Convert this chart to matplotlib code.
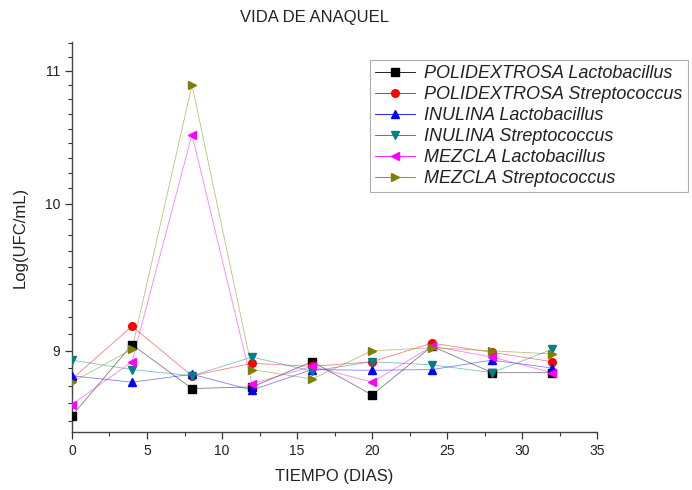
import matplotlib
matplotlib.use("Agg")
import matplotlib.pyplot as plt
import numpy as np
from matplotlib.ticker import FixedLocator, FixedFormatter, NullFormatter

plt.rcParams['font.family'] = ['Liberation Sans', 'DejaVu Sans']

# Shelf-life counts, Log(UFC/mL) per sampling day
dias = [0, 4, 8, 12, 16, 20, 24, 28, 32]
polidextrosa_lacto = [8.59, 9.04, 8.76, 8.77, 8.93, 8.72, 9.03, 8.86, 8.86]
polidextrosa_strep = [8.82, 9.16, 8.84, 8.92, 8.90, 8.93, 9.05, 8.99, 8.93]
inulina_lacto = [8.84, 8.80, 8.85, 8.75, 8.88, 8.875, 8.88, 8.94, 8.89]
inulina_strep = [8.94, 8.88, 8.84, 8.96, 8.87, 8.93, 8.91, 8.86, 9.01]
mezcla_lacto = [8.66, 8.93, 10.51, 8.79, 8.90, 8.80, 9.03, 8.96, 8.86]
mezcla_strep = [8.80, 9.01, 10.89, 8.88, 8.82, 9.00, 9.02, 9.00, 8.98]

series = [
    (polidextrosa_lacto, "POLIDEXTROSA Lactobacillus", "black", "s"),
    (polidextrosa_strep, "POLIDEXTROSA Streptococcus", "#ff0000", "o"),
    (inulina_lacto, "INULINA Lactobacillus", "#0000ff", "^"),
    (inulina_strep, "INULINA Streptococcus", "#008080", "v"),
    (mezcla_lacto, "MEZCLA Lactobacillus", "#ff00ff", "<"),
    (mezcla_strep, "MEZCLA Streptococcus", "#808000", ">"),
]

fig = plt.figure(figsize=(6.92, 4.90), dpi=100)
ax = fig.add_axes([0.104, 0.118, 0.759, 0.796])

for vals, name, col, mk in series:
    ax.plot(dias, vals, color=col, lw=0.6, alpha=0.5, zorder=2)
    ax.plot(dias, vals, color=col, lw=0, marker=mk, ms=5.5, mec=col, zorder=3)
    # proxy for the legend (line + marker)
    ax.plot([], [], color=col, lw=0.6, marker=mk, ms=5.5, label=name)

ax.set_yscale("log")
ax.set_xlim(0, 35)
ax.set_ylim(8.49, 11.23)

ax.xaxis.set_major_locator(FixedLocator([0, 5, 10, 15, 20, 25, 30, 35]))
ax.xaxis.set_minor_locator(FixedLocator(np.arange(2.5, 35, 5)))
ax.yaxis.set_major_locator(FixedLocator([9, 10, 11]))
ax.yaxis.set_major_formatter(FixedFormatter(["9", "10", "11"]))
minors = [9 - k / 9 for k in range(1, 5)] + [9 + k / 9 for k in range(1, 9)] \
    + [10 + k / 9 for k in range(1, 9)] + [11 + k / 9 for k in range(1, 3)]
ax.yaxis.set_minor_locator(FixedLocator(minors))
ax.yaxis.set_minor_formatter(NullFormatter())

ax.tick_params(which="major", direction="out", length=5, width=0.9,
               labelsize=10, colors="#333333", labelcolor="#222222")
ax.tick_params(which="minor", direction="out", length=3, width=0.8,
               colors="#333333")

for s in ["top", "right"]:
    ax.spines[s].set_visible(False)
for s in ["left", "bottom"]:
    ax.spines[s].set_color("#444444")
    ax.spines[s].set_linewidth(1.0)

ax.set_xlabel("TIEMPO (DIAS)", fontsize=12, color="#222222", labelpad=8)
ax.set_ylabel("Log(UFC/mL)", fontsize=12, color="#222222", labelpad=12)
fig.text(0.455, 0.965, "VIDA DE ANAQUEL", fontsize=12, color="#222222",
         ha="center", va="center")

leg = ax.legend(loc="upper left", bbox_to_anchor=(0.567, 0.955),
                prop={"style": "italic", "size": 13}, frameon=True,
                fancybox=False, edgecolor="#999999", handlelength=2.2,
                handletextpad=0.5, labelspacing=0.22, borderpad=0.3,
                borderaxespad=0)
leg.get_frame().set_linewidth(0.8)
for t in leg.get_texts():
    t.set_color("#222222")

fig.savefig("out.png", dpi=100)
